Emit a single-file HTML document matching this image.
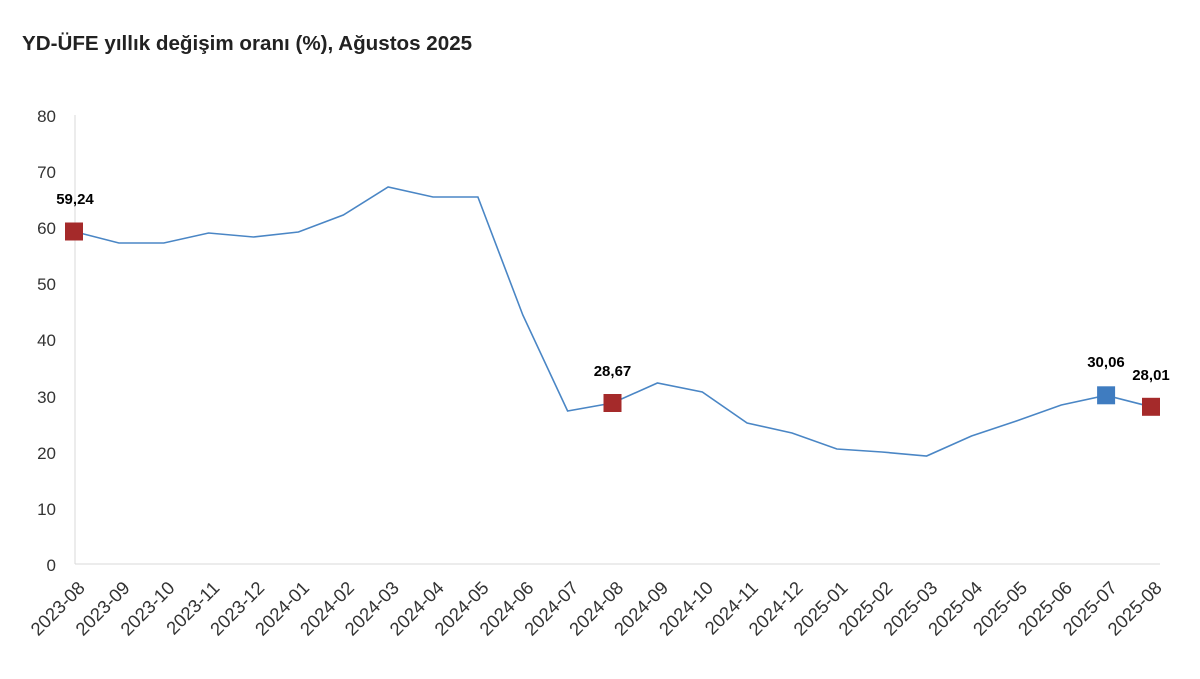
<!DOCTYPE html>
<html><head><meta charset="utf-8"><style>
body{margin:0;background:#fff;}
svg{display:block;font-family:"Liberation Sans",sans-serif;}
</style></head><body>
<svg width="1200" height="679" viewBox="0 0 1200 679">
<text x="22" y="50" font-size="20.6" font-weight="bold" fill="#222">YD-ÜFE yıllık değişim oranı (%), Ağustos 2025</text>
<line x1="75" y1="115" x2="75" y2="564" stroke="#d9d9d9" stroke-width="1"/>
<line x1="75" y1="564" x2="1160" y2="564" stroke="#d9d9d9" stroke-width="1"/>
<g font-size="17" fill="#333" text-anchor="end">
<text x="56" y="122">80</text><text x="56" y="178">70</text><text x="56" y="234">60</text>
<text x="56" y="290">50</text><text x="56" y="346">40</text><text x="56" y="403">30</text>
<text x="56" y="459">20</text><text x="56" y="515">10</text><text x="56" y="571">0</text>
</g>
<polyline fill="none" stroke="#4a86c5" stroke-width="1.6" points="74,231.5 118.9,243 163.8,243 208.6,233 253.5,237 298.4,232 343.3,215 388.1,187 433,197 477.9,197 522.8,315 567.6,411 612.5,403 657.4,383 702.3,392 747.1,423 792,433 836.9,449 881.8,452 926.6,456 971.5,436 1016.4,421 1061.3,405 1106.1,395.3 1151,406.8"/>
<rect x="65" y="222.5" width="18" height="18" fill="#a52a2a"/>
<rect x="603.5" y="394" width="18" height="18" fill="#a52a2a"/>
<rect x="1097.1" y="386.3" width="18" height="18" fill="#3f7cc0"/>
<rect x="1142" y="397.8" width="18" height="18" fill="#a52a2a"/>
<g font-size="15" font-weight="bold" fill="#000" text-anchor="middle">
<text x="75" y="204">59,24</text>
<text x="612.5" y="376">28,67</text>
<text x="1106" y="367">30,06</text>
<text x="1151" y="380">28,01</text>
</g>
<g font-size="18.4" fill="#333" text-anchor="end">
<text transform="translate(86,589) rotate(-45)">2023-08</text>
<text transform="translate(130.9,589) rotate(-45)">2023-09</text>
<text transform="translate(175.8,589) rotate(-45)">2023-10</text>
<text transform="translate(220.6,589) rotate(-45)">2023-11</text>
<text transform="translate(265.5,589) rotate(-45)">2023-12</text>
<text transform="translate(310.4,589) rotate(-45)">2024-01</text>
<text transform="translate(355.3,589) rotate(-45)">2024-02</text>
<text transform="translate(400.1,589) rotate(-45)">2024-03</text>
<text transform="translate(445,589) rotate(-45)">2024-04</text>
<text transform="translate(489.9,589) rotate(-45)">2024-05</text>
<text transform="translate(534.8,589) rotate(-45)">2024-06</text>
<text transform="translate(579.6,589) rotate(-45)">2024-07</text>
<text transform="translate(624.5,589) rotate(-45)">2024-08</text>
<text transform="translate(669.4,589) rotate(-45)">2024-09</text>
<text transform="translate(714.3,589) rotate(-45)">2024-10</text>
<text transform="translate(759.1,589) rotate(-45)">2024-11</text>
<text transform="translate(804,589) rotate(-45)">2024-12</text>
<text transform="translate(848.9,589) rotate(-45)">2025-01</text>
<text transform="translate(893.8,589) rotate(-45)">2025-02</text>
<text transform="translate(938.6,589) rotate(-45)">2025-03</text>
<text transform="translate(983.5,589) rotate(-45)">2025-04</text>
<text transform="translate(1028.4,589) rotate(-45)">2025-05</text>
<text transform="translate(1073.3,589) rotate(-45)">2025-06</text>
<text transform="translate(1118.1,589) rotate(-45)">2025-07</text>
<text transform="translate(1163,589) rotate(-45)">2025-08</text>
</g>
</svg>
</body></html>
